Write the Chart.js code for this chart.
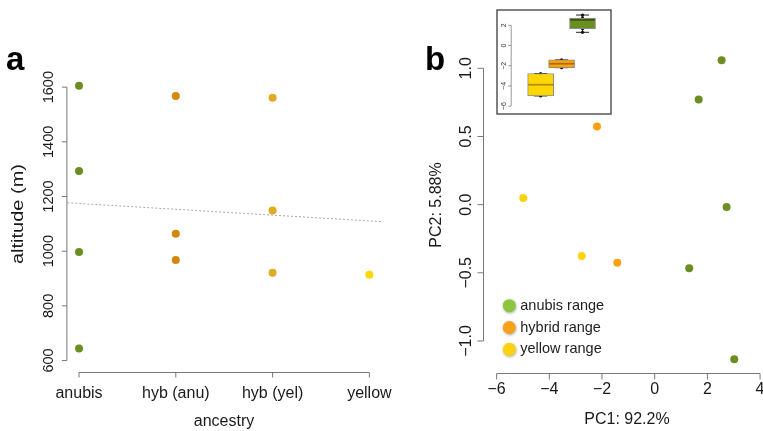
<!DOCTYPE html>
<html>
<head>
<meta charset="utf-8">
<script src="https://cdn.jsdelivr.net/npm/chart.js@4.4.1/dist/chart.umd.min.js"></script>
<style>
  body { margin: 0; background: #fff; }
  #wrap { position: relative; width: 763px; height: 431px; overflow: hidden; background: #fff; }
  canvas { position: absolute; }
</style>
</head>
<body>
<div id="wrap">
  <canvas id="chartA" width="400" height="431" style="left:0;top:0"></canvas>
  <canvas id="chartB" width="380" height="431" style="left:400px;top:0"></canvas>
  <canvas id="chartC" width="116" height="106" style="left:496px;top:9px"></canvas>
</div>
<script>
// ---- panel a: altitude by ancestry ----
const ancestry = ['anubis', 'hyb (anu)', 'hyb (yel)', 'yellow'];
const altAnubis = [1605, 1293, 997, 644];
const altHybAnu = [1568, 1064, 968];
const altHybYel = [1561, 1149, 921];
const altYellow = [914];
const altTicks = [600, 800, 1000, 1200, 1400, 1600];
const trendX = [0.88, 4.12];
const trendY = [1177, 1108];
const ancestryColors = ['#6b8e23', '#d4870a', '#e0aa22', '#ffd700'];

// ---- panel b: PCA ----
const anubisPC1 = [2.54, 1.67, 2.73, 1.31, 3.02];
const anubisPC2 = [1.059, 0.771, -0.017, -0.466, -1.135];
const hybridPC1 = [-2.19, -1.42];
const hybridPC2 = [0.573, -0.427];
const yellowPC1 = [-4.99, -2.77];
const yellowPC2 = [0.049, -0.376];
const pc1Ticks = [-6, -4, -2, 0, 2, 4];
const pc2Ticks = [-1, -0.5, 0, 0.5, 1];
const pc2Labels = ['\u22121.0', '\u22120.5', '0.0', '0.5', '1.0'];
const rangeLabels = ['anubis range', 'hybrid range', 'yellow range'];
const rangeColors = ['#6b8e23', '#ffa010', '#fcd20f'];
const legendColors = ['#8cc63f', '#f7a01b', '#fcd20d'];

// ---- inset: PC1 boxplot (yellow, hybrid, anubis) ----
const boxGroups = [1, 2, 3];
const boxLow = [-4.99, -2.19, 1.31];
const boxQ1 = [-4.99, -2.19, 1.67];
const boxMed = [-3.88, -1.80, 2.54];
const boxQ3 = [-2.77, -1.42, 2.73];
const boxHigh = [-2.77, -1.42, 3.02];
const boxFill = ['#ffd700', '#ffa500', '#6b8e23'];
const boxMedColor = ['#b08f10', '#b36b00', '#3f5514'];
const insetTicks = [-6, -4, -2, 0, 2];

const FONT = '"Liberation Sans", Arial, Helvetica, sans-serif';
const minus = v => String(v).replace('-', '\u2212');

function drawText(ctx, str, x, y, size, rot, opts = {}) {
  ctx.save();
  ctx.translate(x, y);
  if (rot) ctx.rotate(rot);
  if (opts.sx) ctx.scale(opts.sx, 1);
  ctx.font = (opts.bold ? 'bold ' : '') + size + 'px ' + FONT;
  ctx.fillStyle = opts.color || '#1a1a1a';
  ctx.textAlign = opts.align || 'center';
  ctx.textBaseline = opts.baseline || 'middle';
  ctx.fillText(str, 0, 0);
  ctx.restore();
}

// R-style axes: line spans first to last tick, ticks point outward
const rAxes = {
  id: 'rAxes',
  afterDraw(chart, args, o) {
    if (!o || !o.on) return;
    const ctx = chart.ctx, ca = chart.chartArea;
    const sx = chart.scales.x, sy = chart.scales.y;
    ctx.save();
    ctx.strokeStyle = o.lineColor || '#777';
    ctx.lineWidth = 1;
    if (o.x) {
      const px = o.x.ticks.map(v => sx.getPixelForValue(v));
      const yb = ca.bottom + 0.5;
      ctx.beginPath();
      ctx.moveTo(px[0], yb); ctx.lineTo(px[px.length - 1], yb);
      px.forEach(p => { ctx.moveTo(p, yb); ctx.lineTo(p, yb + o.tickLen); });
      ctx.stroke();
      px.forEach((p, i) => drawText(ctx, o.x.labels[i], p, yb + o.x.gap, o.x.size));
    }
    if (o.y) {
      const py = o.y.ticks.map(v => sy.getPixelForValue(v));
      const xl = ca.left - 0.5;
      ctx.beginPath();
      ctx.moveTo(xl, py[0]); ctx.lineTo(xl, py[py.length - 1]);
      py.forEach(p => { ctx.moveTo(xl, p); ctx.lineTo(xl - o.tickLen, p); });
      ctx.stroke();
      py.forEach((p, i) => drawText(ctx, o.y.labels[i], xl - o.y.gap, p, o.y.size, -Math.PI / 2, { color: o.y.color }));
    }
    (o.texts || []).forEach(t => drawText(ctx, t.text, t.x, t.y, t.size, t.rot || 0, t));
    ctx.restore();
  }
};
Chart.register(rAxes);

const hidden = { display: false };
const dot = (color, r) => ({ backgroundColor: color, borderColor: color, pointRadius: r, pointHoverRadius: r, borderWidth: 0 });

// ---------- panel a ----------
const aSets = [altAnubis, altHybAnu, altHybYel, altYellow].map((vals, i) => ({
  type: 'scatter',
  data: vals.map(v => ({ x: i + 1, y: v })),
  ...dot(ancestryColors[i], 4),
  clip: false
}));
aSets.unshift({
  type: 'line',
  data: trendX.map((x, i) => ({ x, y: trendY[i] })),
  borderColor: '#a8a8a8', borderWidth: 1, borderDash: [2, 2],
  pointRadius: 0, fill: false
});

new Chart(document.getElementById('chartA'), {
  type: 'scatter',
  data: { datasets: aSets },
  options: {
    responsive: false, animation: false, devicePixelRatio: 1,
    layout: { padding: { left: 67.4, right: 19, top: 62, bottom: 59 } },
    scales: {
      x: { type: 'linear', min: 0.88, max: 4.12, ...hidden },
      y: { type: 'linear', min: 558, max: 1692, ...hidden }
    },
    plugins: {
      legend: hidden, tooltip: { enabled: false },
      rAxes: {
        on: true, tickLen: 5,
        x: { ticks: [1, 2, 3, 4], labels: ancestry, gap: 21, size: 16 },
        y: { ticks: altTicks, labels: altTicks.map(String), gap: 18, size: 14.5 },
        texts: [
          { text: 'ancestry', x: 224, y: 422, size: 16 },
          { text: 'altitude (m)', x: 19, y: 214, size: 16, rot: -Math.PI / 2, sx: 1.25 },
          { text: 'a', x: 6, y: 70, size: 33, bold: true, align: 'left', baseline: 'alphabetic', color: '#000' }
        ]
      }
    }
  }
});

// ---------- panel b ----------
const bSets = [[anubisPC1, anubisPC2], [hybridPC1, hybridPC2], [yellowPC1, yellowPC2]].map(([xs, ys], i) => ({
  data: xs.map((x, j) => ({ x, y: ys[j] })),
  ...dot(rangeColors[i], 4),
  clip: false
}));

const legendPlugin = {
  id: 'rangeLegend',
  afterDraw(chart, args, o) {
    if (!o || !o.on) return;
    const ctx = chart.ctx;
    rangeLabels.forEach((lab, i) => {
      const y = o.y + i * o.step;
      ctx.save();
      ctx.shadowColor = 'rgba(0,0,0,0.35)';
      ctx.shadowBlur = 3; ctx.shadowOffsetX = 0.5; ctx.shadowOffsetY = 1;
      ctx.fillStyle = legendColors[i];
      ctx.beginPath(); ctx.arc(o.x, y, 6.5, 0, Math.PI * 2); ctx.fill();
      ctx.restore();
      drawText(ctx, lab, o.x + 11, y, 14.5, 0, { align: 'left', color: '#222' });
    });
  }
};

new Chart(document.getElementById('chartB'), {
  type: 'scatter',
  data: { datasets: bSets },
  plugins: [legendPlugin],
  options: {
    responsive: false, animation: false, devicePixelRatio: 1,
    layout: { padding: { left: 84, right: 9.4, top: 48.3, bottom: 58 } },
    scales: {
      x: { type: 'linear', min: -6.48, max: 4.4, ...hidden },
      y: { type: 'linear', min: -1.235, max: 1.147, ...hidden }
    },
    plugins: {
      legend: hidden, tooltip: { enabled: false },
      rangeLegend: { on: true, x: 109.3, y: 305.7, step: 21.8 },
      rAxes: {
        on: true, tickLen: 6,
        x: { ticks: pc1Ticks, labels: pc1Ticks.map(minus), gap: 16, size: 16 },
        y: { ticks: pc2Ticks, labels: pc2Labels, gap: 17, size: 16 },
        texts: [
          { text: 'PC1: 92.2%', x: 227, y: 420, size: 16 },
          { text: 'PC2: 5.88%', x: 37, y: 205, size: 16, rot: -Math.PI / 2 },
          { text: 'b', x: 25, y: 70, size: 33, bold: true, align: 'left', baseline: 'alphabetic', color: '#000' }
        ]
      }
    }
  }
});

// ---------- inset boxplot ----------
const boxPlugin = {
  id: 'boxParts',
  beforeDatasetsDraw(chart) {
    const ctx = chart.ctx, sx = chart.scales.x, sy = chart.scales.y;
    ctx.save();
    // frame
    ctx.strokeStyle = '#555'; ctx.lineWidth = 1.5;
    ctx.strokeRect(1, 1, chart.width - 2, chart.height - 2);
    // whiskers and caps
    ctx.strokeStyle = '#222'; ctx.lineWidth = 1;
    boxGroups.forEach((g, i) => {
      const x = sx.getPixelForValue(g);
      ctx.beginPath();
      ctx.moveTo(x, sy.getPixelForValue(boxQ3[i])); ctx.lineTo(x, sy.getPixelForValue(boxHigh[i]));
      ctx.moveTo(x, sy.getPixelForValue(boxQ1[i])); ctx.lineTo(x, sy.getPixelForValue(boxLow[i]));
      [boxLow[i], boxHigh[i]].forEach(v => {
        const y = sy.getPixelForValue(v);
        ctx.moveTo(x - 6.5, y); ctx.lineTo(x + 6.5, y);
      });
      ctx.stroke();
    });
    ctx.restore();
  },
  afterDatasetDraw(chart, args) {
    if (args.index !== 0) return;
    const ctx = chart.ctx, sx = chart.scales.x, sy = chart.scales.y;
    ctx.save();
    ctx.lineWidth = 1.8;
    boxGroups.forEach((g, i) => {
      const x = sx.getPixelForValue(g), y = sy.getPixelForValue(boxMed[i]);
      ctx.strokeStyle = boxMedColor[i];
      ctx.beginPath(); ctx.moveTo(x - 12.5, y); ctx.lineTo(x + 12.5, y); ctx.stroke();
    });
    ctx.restore();
  }
};

const boxDots = [yellowPC1, hybridPC1, anubisPC1].flatMap((vals, i) => vals.map(v => ({ x: boxGroups[i], y: v })));

new Chart(document.getElementById('chartC'), {
  type: 'bar',
  data: {
    datasets: [{
      type: 'bar',
      data: boxGroups.map((g, i) => ({ x: g, y: [boxQ1[i], boxQ3[i]] })),
      backgroundColor: boxFill, borderColor: '#8c8c8c', borderWidth: 1,
      borderSkipped: false, barThickness: 26
    }, {
      type: 'scatter',
      data: boxDots,
      ...dot('#111', 1.6)
    }]
  },
  plugins: [boxPlugin],
  options: {
    responsive: false, animation: false, devicePixelRatio: 1,
    layout: { padding: { left: 15.7, right: 2.5, top: 2, bottom: 3 } },
    scales: {
      x: { type: 'linear', min: 0.395, max: 3.51, ...hidden },
      y: { type: 'linear', min: -6.58, max: 3.42, ...hidden }
    },
    plugins: {
      legend: hidden, tooltip: { enabled: false },
      rAxes: {
        on: true, tickLen: 3, lineColor: '#999',
        y: { ticks: insetTicks, labels: insetTicks.map(minus), gap: 7.5, size: 7, color: '#333' }
      }
    }
  }
});
</script>
</body>
</html>
